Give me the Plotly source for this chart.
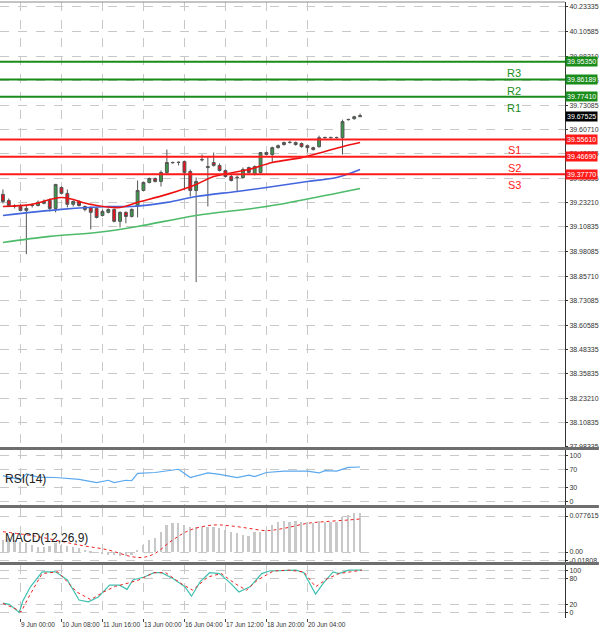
import plotly.graph_objects as go

# velas H4
opens = [39.275,39.244,39.218,39.213,39.193,39.218,39.218,39.229,39.244,39.203,
         39.310,39.280,39.224,39.239,39.213,39.208,39.203,39.167,39.183,39.198,
         39.137,39.183,39.162,39.213,39.295,39.336,39.356,39.341,39.387,39.438,
         39.438,39.443,39.392,39.295,39.453,39.412,39.438,39.423,39.397,39.366,
         39.361,39.361,39.412,39.377,39.387,39.489,39.479,39.514,39.530,39.540,
         39.540,39.535,39.524,39.514,39.519,39.565,39.565,39.565,39.565,39.657,
         39.662,39.672]
highs = [39.300,39.254,39.224,39.224,39.218,39.229,39.244,39.249,39.254,39.326,
         39.315,39.300,39.244,39.244,39.218,39.213,39.208,39.198,39.203,39.203,
         39.188,39.188,39.203,39.346,39.341,39.361,39.361,39.397,39.504,39.443,
         39.443,39.448,39.402,39.361,39.479,39.468,39.489,39.433,39.402,39.377,
         39.372,39.412,39.417,39.423,39.489,39.494,39.519,39.530,39.545,39.550,
         39.545,39.540,39.530,39.519,39.575,39.570,39.570,39.570,39.657,39.662,
         39.677,39.688]
lows = [39.229,39.213,39.203,39.188,38.969,39.208,39.213,39.224,39.188,39.183,
        39.275,39.208,39.213,39.213,39.188,39.096,39.152,39.162,39.178,39.132,
        39.106,39.127,39.157,39.157,39.290,39.331,39.336,39.315,39.377,39.433,
        39.423,39.300,39.264,38.826,39.443,39.213,39.417,39.392,39.361,39.341,
        39.290,39.356,39.382,39.372,39.382,39.474,39.438,39.509,39.524,39.535,
        39.524,39.514,39.489,39.499,39.514,39.560,39.560,39.560,39.479,39.652,
        39.657,39.672]
closes = [39.239,39.218,39.213,39.193,39.203,39.219,39.234,39.239,39.203,39.326,
          39.280,39.224,39.239,39.218,39.198,39.183,39.157,39.188,39.198,39.137,
          39.183,39.162,39.198,39.295,39.336,39.356,39.341,39.387,39.438,39.437,
          39.439,39.387,39.295,39.341,39.452,39.417,39.423,39.397,39.366,39.346,
          39.362,39.402,39.387,39.417,39.489,39.479,39.514,39.524,39.540,39.541,
          39.530,39.519,39.514,39.504,39.565,39.566,39.566,39.566,39.647,39.658,
          39.672,39.677]

ma_red_x = [0,5,10,15,20,23,28,33,36,42,46,51,55,58,61]
ma_red = [39.213,39.224,39.259,39.224,39.208,39.234,39.275,39.326,39.366,39.402,
          39.438,39.463,39.494,39.519,39.540]
ma_blue_x = [0,10,18,22,28,33,40,45,52,57,61]
ma_blue = [39.167,39.198,39.213,39.213,39.234,39.264,39.290,39.310,39.341,39.361,39.402]
ma_green_x = [0,8,16,23,33,45,55,61]
ma_green = [39.029,39.060,39.080,39.111,39.167,39.213,39.269,39.305]

level_names = ["R3", "R2", "R1", "S1", "S2", "S3"]
level_values = [39.95350, 39.86189, 39.77410, 39.55610, 39.46690, 39.37770]
last_price = 39.67525

price_ticks = [40.23335,40.10585,39.98210,39.85835,39.73085,39.60710,39.48335,39.35835,
               39.23210,39.10835,38.98085,38.85710,38.73085,38.60585,38.48335,38.35835,
               38.23210,38.10835,37.98335]

rsi_x = [0,2,3,4,6,9,13,16,18,19,21,22,23,26,29,30,32,34,35,37,40,42,43,45,48,52,54,55,57,59,61]
rsi = [56,50,47,60,53,52,48,41,46,41,46,45,61,63,69,70,52,58,62,59,52,57,54,63,66,66,62,67,66,74,75]

macd_hist = [0.0259,0.0302,0.0259,0.0223,0.0187,0.0151,0.0115,0.0115,0.0130,0.0187,
             0.0151,0.0130,0.0101,0.0079,0.0043,0.0007,-0.0014,-0.0029,-0.0065,-0.0065,
             -0.0086,-0.0086,-0.0065,0.0043,0.0151,0.0259,0.0302,0.0439,0.0583,0.0619,
             0.0634,0.0583,0.0533,0.0533,0.0533,0.0547,0.0533,0.0511,0.0475,0.0439,
             0.0403,0.0367,0.0346,0.0439,0.0439,0.0475,0.0583,0.0655,0.0670,0.0655,
             0.0670,0.0655,0.0655,0.0634,0.0670,0.0655,0.0655,0.0655,0.0749,0.0799,
             0.0850,0.0850]
macd_sig_x = [0,6,13,18,22,24,26,29,32,36,39,42,45,48,52,55,59,61]
macd_sig = [0.0439,0.0331,0.0151,0.0043,-0.0101,-0.0115,-0.0029,0.0259,0.0475,0.0583,
            0.0562,0.0511,0.0461,0.0511,0.0619,0.0655,0.0691,0.0713]

sto_x = [0,1.1,2.8,3.4,4.7,6.7,9,11,13,14.6,16.3,18.2,19.9,21.2,22.2,24.1,25.8,27.1,29.1,
         31.1,32.2,33.7,35.3,37,38.9,40.3,42.2,44.2,45.5,48.1,50.1,51.4,53.4,54.7,56.4,57.4,59,61.3]
sto_k = [23,20,1,28,61,96,96,77,30,26,37,65,65,55,77,84,94,94,80,61,39,73,94,92,69,49,61,
         92,98,100,100,94,44,69,96,92,100,100]
sto_d_x = [0,2.1,3.1,4.4,6.7,9.4,12.6,15,17.2,19.2,21.2,23.2,25.8,27.8,30.4,32.4,35,37.3,
           39.6,41.6,43.5,46.2,48.8,51.4,53.4,55.4,57.4,61.3]
sto_d = [22,10,2,37,92,96,49,31,49,62,69,77,94,94,69,53,84,92,69,53,77,98,100,96,61,80,92,100]

tick_vals = [3, 10, 17, 24, 31, 38, 45, 52]
tick_text = ["9 Jun 00:00", "10 Jun 08:00", "11 Jun 16:00", "13 Jun 00:00",
             "16 Jun 04:00", "17 Jun 12:00", "18 Jun 20:00", "20 Jun 04:00"]

idx = list(range(len(closes)))
grid = "#c8c8c8"
FF = "Liberation Sans Narrow, Liberation Sans, Arial"
fnt = dict(family=FF, size=7, color="#333")

fig = go.Figure()
fig.add_trace(go.Candlestick(
    x=idx, open=opens, high=highs, low=lows, close=closes,
    increasing=dict(fillcolor="#3a9a4a", line=dict(color="#555", width=1)),
    decreasing=dict(fillcolor="#e8101a", line=dict(color="#555", width=1)),
    whiskerwidth=0, xaxis="x", yaxis="y"))
fig.add_trace(go.Scatter(x=ma_green_x, y=ma_green, mode="lines", line=dict(color="#4dbb6a", width=1.6, shape="spline"), xaxis="x", yaxis="y"))
fig.add_trace(go.Scatter(x=ma_blue_x, y=ma_blue, mode="lines", line=dict(color="#4466dd", width=1.6, shape="spline"), xaxis="x", yaxis="y"))
fig.add_trace(go.Scatter(x=ma_red_x, y=ma_red, mode="lines", line=dict(color="#ee1111", width=1.6, shape="spline"), xaxis="x", yaxis="y"))

fig.add_trace(go.Scatter(x=rsi_x, y=rsi, mode="lines", line=dict(color="#5aa8ee", width=1.2), xaxis="x2", yaxis="y2"))
fig.add_trace(go.Bar(x=idx, y=macd_hist, marker=dict(color="#c8c8c8", line=dict(width=0)), width=0.3, xaxis="x3", yaxis="y3"))
fig.add_trace(go.Scatter(x=macd_sig_x, y=macd_sig, mode="lines", line=dict(color="#ee2222", width=1, dash="dot", shape="spline"), xaxis="x3", yaxis="y3"))
fig.add_trace(go.Scatter(x=sto_x, y=sto_k, mode="lines", line=dict(color="#40c0b0", width=1.2), xaxis="x4", yaxis="y4"))
fig.add_trace(go.Scatter(x=sto_d_x, y=sto_d, mode="lines", line=dict(color="#ee2222", width=1, dash="dot"), xaxis="x4", yaxis="y4"))

xr = [-0.5, 96]
xcommon = dict(range=xr, showgrid=True, gridcolor=grid, griddash="dash", gridwidth=1, automargin=False,
               tickvals=tick_vals, zeroline=False, showline=False, rangeslider=dict(visible=False))
ycommon = dict(side="right", showgrid=True, gridcolor=grid, griddash="dash", zeroline=False,
               tickfont=fnt, ticks="outside", ticklen=2, tickcolor="#333", automargin=False,
               showline=True, linecolor="#333", mirror=False)

fig.update_layout(
    width=600, height=634, showlegend=False, plot_bgcolor="white", paper_bgcolor="white",
    margin=dict(l=0, r=35, t=2, b=16, autoexpand=False), bargap=0,
    xaxis=dict(xcommon, anchor="y", showticklabels=False),
    xaxis2=dict(xcommon, anchor="y2", matches="x", showticklabels=False),
    xaxis3=dict(xcommon, anchor="y3", matches="x", showticklabels=False),
    xaxis4=dict(xcommon, anchor="y4", matches="x", ticktext=tick_text,
                tickfont=dict(family=FF, size=6.5, color="#333"), tickangle=0,
                ticklabelposition="outside right", ticks="outside", ticklen=3),
    yaxis=dict(ycommon, domain=[0.2776, 1.0], range=[37.983, 40.2588], tickvals=price_ticks,
               ticktext=[f"{v:.5f}" for v in price_ticks]),
    yaxis2=dict(ycommon, domain=[0.1834, 0.2727], range=[-8, 112], tickvals=[0, 30, 70, 100]),
    yaxis3=dict(ycommon, domain=[0.0909, 0.1786], range=[-0.0216, 0.095],
                tickvals=[0.077615, 0, -0.01808], ticktext=["0.077615", "0.00", "-0.01808"]),
    yaxis4=dict(ycommon, domain=[0, 0.086], range=[-12, 112], tickvals=[0, 20, 80, 100]),
)

# lineas de soporte / resistencia
for name, v in zip(level_names, level_values):
    col = "#1a8c1a" if name.startswith("R") else "#ff1a1a"
    fig.add_shape(type="line", xref="paper", x0=0, x1=1, yref="y", y0=v, y1=v,
                  line=dict(color=col, width=2))
    fig.add_annotation(xref="paper", x=1.0, y=v, yref="y", text=f"{v:.5f}", showarrow=False,
                       xanchor="left", bgcolor=col, font=dict(family=FF, size=7, color="white"),
                       borderpad=1)
    fig.add_annotation(xref="paper", x=0.925, y=v, yref="y", text=name, showarrow=False,
                       yanchor="top", yshift=-3, font=dict(family="Liberation Sans, Arial", size=11, color=col))
fig.add_annotation(xref="paper", x=1.0, y=last_price, yref="y", text=f"{last_price:.5f}", showarrow=False,
                   xanchor="left", bgcolor="black", font=dict(family=FF, size=7, color="white"),
                   borderpad=1)

# separadores de paneles
for yp in [0.2752, 0.1810, 0.0885]:
    fig.add_shape(type="line", xref="paper", x0=0, x1=1.06, yref="paper", y0=yp, y1=yp,
                  line=dict(color="#6e6e6e", width=3))
fig.add_shape(type="line", xref="paper", x0=0, x1=1, yref="paper", y0=1, y1=1, line=dict(color="#888", width=1))

fig.add_annotation(xref="paper", x=0.005, yref="y2", y=48, text="RSI(14)", showarrow=False, xanchor="left",
                   font=dict(family="Liberation Sans, Arial", size=12, color="#222"))
fig.add_annotation(xref="paper", x=0.005, yref="y3", y=0.03, text="MACD(12,26,9)", showarrow=False, xanchor="left",
                   font=dict(family="Liberation Sans, Arial", size=12, color="#222"))

# la pagina trae margen de 8px en body; lo quito para que quepa en la ventana
fig.write_html("out.html", config={"displayModeBar": False},
               post_script="document.body.style.margin='0';")
